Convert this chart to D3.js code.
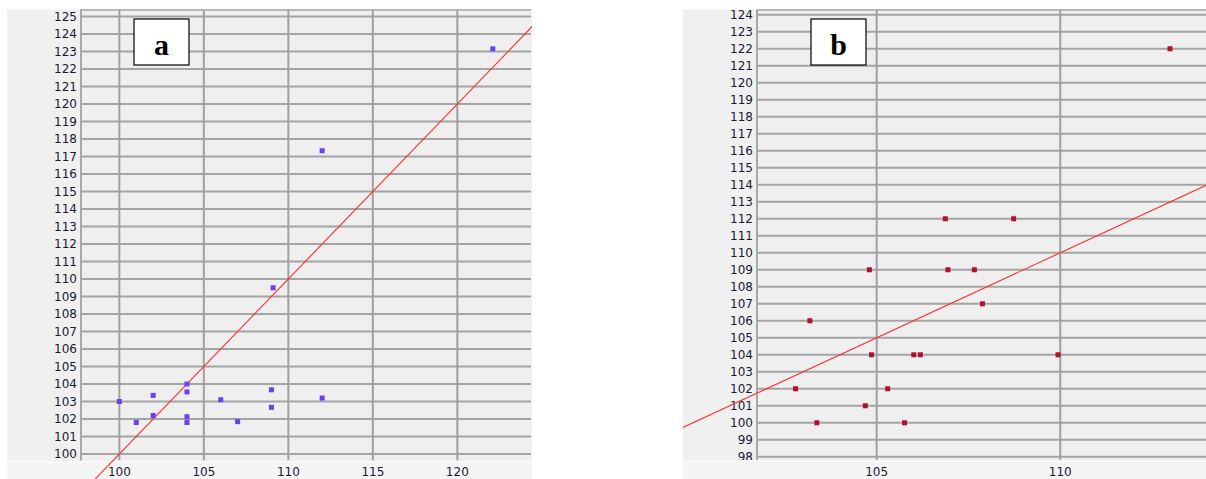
<!DOCTYPE html>
<html><head><meta charset="utf-8">
<script src="https://cdn.jsdelivr.net/npm/d3@7"></script>
<style>html,body{margin:0;padding:0;background:#fff;}svg{display:block;}</style>
</head><body>
<svg id="c" width="1206" height="479"></svg>
<script>
// ---- data ----
const aX = [100, 101, 102, 102, 104, 104, 104, 104, 106, 107, 109, 109, 112, 112, 109.1, 122.1];
const aY = [103, 101.8, 103.35, 102.2, 104, 103.55, 102.13, 101.8, 103.1, 101.85, 103.67, 102.67, 103.2, 117.33, 109.5, 123.15];
const bX = [104.8, 103.18, 104.86, 106.01, 106.19, 102.79, 105.3, 104.69, 103.37, 105.76, 106.87, 108.73, 106.94, 107.66, 107.88, 109.94, 112.99];
const bY = [109, 106, 104, 104, 104, 102, 102, 101, 100, 100, 112, 112, 109, 109, 107, 104, 122];
const aYTicks = d3.range(100, 126);
const aXTicks = [100, 105, 110, 115, 120];
const bYTicks = d3.range(98, 125);
const bXTicks = [105, 110];
const aLabel = "a";
const bLabel = "b";
// fitted line y = slope*x + intercept
const aLine = {slope: 1, intercept: 0};
const bLine = {slope: 1, intercept: 0};

const svg = d3.select("#c");

function panel(cfg) {
  const g = svg.append("g");
  const x = d3.scaleLinear().domain(cfg.xDom).range([cfg.left, cfg.right]);
  const y = d3.scaleLinear().domain(cfg.yDom).range([cfg.bottom, cfg.top]);
  const id = cfg.id;
  // panel background
  g.append("rect").attr("x", cfg.bgLeft).attr("y", cfg.top).attr("width", cfg.bgRight - cfg.bgLeft)
    .attr("height", 479 - cfg.top).attr("fill", "#f0f0f0");
  g.append("rect").attr("x", cfg.bgLeft).attr("y", cfg.bottom + 1).attr("width", cfg.bgRight - cfg.bgLeft)
    .attr("height", 479 - cfg.bottom).attr("fill", "#f5f5f5");
  g.append("line").attr("x1", cfg.bgLeft).attr("x2", cfg.bgRight).attr("y1", cfg.bottom + 1).attr("y2", cfg.bottom + 1)
    .attr("stroke", "#fbfbfb").attr("stroke-width", 1);
  // plot area
  g.append("rect").attr("x", cfg.left).attr("y", cfg.top).attr("width", cfg.right - cfg.left)
    .attr("height", cfg.bottom - cfg.top).attr("fill", "#efefef");
  const defs = svg.append("defs");
  defs.append("clipPath").attr("id", "plot" + id).append("rect")
    .attr("x", cfg.left).attr("y", cfg.top).attr("width", cfg.right - cfg.left).attr("height", cfg.bottom - cfg.top);
  defs.append("clipPath").attr("id", "bg" + id).append("rect")
    .attr("x", cfg.bgLeft).attr("y", cfg.top).attr("width", cfg.bgRight - cfg.bgLeft).attr("height", 479 - cfg.top);
  defs.append("clipPath").attr("id", "yl" + id).append("rect")
    .attr("x", cfg.bgLeft).attr("y", cfg.top - 2).attr("width", cfg.left - cfg.bgLeft).attr("height", cfg.bottom - cfg.top + 2);

  const grid = g.append("g").attr("clip-path", `url(#plot${id})`);
  grid.selectAll("line.h").data(cfg.yTicks).join("line").attr("class", "h")
    .attr("x1", cfg.left).attr("x2", cfg.right).attr("y1", d => y(d)).attr("y2", d => y(d))
    .attr("stroke", "#a4a4a4").attr("stroke-width", 2);
  grid.selectAll("line.v").data(cfg.xTicks).join("line").attr("class", "v")
    .attr("y1", cfg.top).attr("y2", cfg.bottom).attr("x1", d => x(d)).attr("x2", d => x(d))
    .attr("stroke", "#a0a0a0").attr("stroke-width", 2);
  // frame: top line and left axis
  g.append("line").attr("x1", cfg.left).attr("x2", cfg.right).attr("y1", cfg.top + 0.5).attr("y2", cfg.top + 0.5)
    .attr("stroke", "#a4a4a4").attr("stroke-width", 1.5);
  g.append("line").attr("x1", cfg.left).attr("x2", cfg.left).attr("y1", cfg.top).attr("y2", cfg.bottom)
    .attr("stroke", "#a8a8a8").attr("stroke-width", 2);

  // y tick labels
  g.append("g").attr("clip-path", `url(#yl${id})`).selectAll("text").data(cfg.yTicks).join("text")
    .attr("x", cfg.left - 4).attr("y", d => y(d)).attr("dy", "0.36em")
    .attr("text-anchor", "end").attr("font-family", "DejaVu Sans, Verdana, sans-serif").attr("font-size", 12)
    .attr("fill", "#1a1a33").text(d => d);
  // x tick labels
  g.append("g").selectAll("text").data(cfg.xTicks).join("text")
    .attr("x", d => x(d)).attr("y", 472).attr("dy", "0.36em")
    .attr("text-anchor", "middle").attr("font-family", "DejaVu Sans, Verdana, sans-serif").attr("font-size", 12)
    .attr("fill", "#1a1a33").text(d => d);

  // fitted line
  const lx = cfg.xDom;
  const lineData = [lx[0] - 5, lx[1] + 5].map(v => [v, cfg.line.slope * v + cfg.line.intercept]);
  g.append("path").attr("clip-path", `url(#bg${id})`)
    .attr("d", d3.line().x(d => x(d[0])).y(d => y(d[1]))(lineData))
    .attr("fill", "none").attr("stroke", "#ff2a2a").attr("stroke-width", 1.1);

  // points
  const pts = cfg.xs.map((v, i) => [v, cfg.ys[i]]);
  g.append("g").selectAll("rect").data(pts).join("rect")
    .attr("x", d => x(d[0]) - 2.5).attr("y", d => y(d[1]) - 2.5).attr("width", 5).attr("height", 5)
    .attr("fill", cfg.color);

  // label box
  g.append("rect").attr("x", cfg.box[0]).attr("y", 19).attr("width", 55).attr("height", 46)
    .attr("fill", "#fff").attr("stroke", "#000").attr("stroke-width", 1.2);
  g.append("text").attr("x", cfg.box[0] + 27.5).attr("y", 55).attr("text-anchor", "middle")
    .attr("font-family", "Liberation Serif, DejaVu Serif, serif").attr("font-weight", "bold").attr("font-size", 30)
    .attr("fill", "#000").text(cfg.label);
}

panel({id: "a", xs: aX, ys: aY, xTicks: aXTicks, yTicks: aYTicks, line: aLine, label: aLabel,
  xDom: [97.73, 124.36], yDom: [99.63, 125.4], left: 81, right: 531, top: 9.5, bottom: 460.5,
  bgLeft: 7, bgRight: 532, color: "#6a40f2", box: [134]});
panel({id: "b", xs: bX, ys: bY, xTicks: bXTicks, yTicks: bYTicks, line: bLine, label: bLabel,
  xDom: [101.74, 113.97], yDom: [97.81, 124.31], left: 757, right: 1206, top: 9.5, bottom: 460,
  bgLeft: 683, bgRight: 1206, color: "#b3102f", box: [811]});
</script>
</body></html>
